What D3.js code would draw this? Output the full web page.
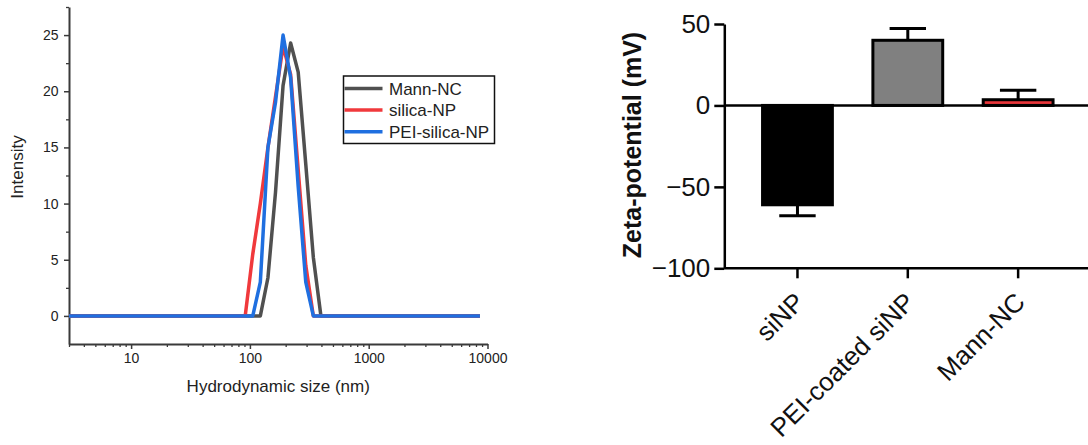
<!DOCTYPE html>
<html>
<head>
<meta charset="utf-8">
<script src="https://cdn.jsdelivr.net/npm/d3@7"></script>
<style>
  html, body { margin: 0; padding: 0; background: #fff; }
  svg { display: block; font-family: "Liberation Sans", Arial, sans-serif; }
</style>
</head>
<body>
<svg id="chart" width="1088" height="445"></svg>
<script>
// ---------- Left panel data (DLS size distribution) ----------
const seriesNames = ["Mann-NC", "silica-NP", "PEI-silica-NP"];
const seriesColors = ["#505050", "#f0393c", "#1f6fe0"];
const mannNC = [[3,0],[122.4,0],[141.8,3.4],[164.2,11],[190.1,20.5],[220.2,24.3],[255,21.7],[295.3,13.5],[342,5.2],[396.1,0],[8635,0]];
const silicaNP = [[3,0],[91.28,0],[105.7,5.5],[122.4,10],[141.8,15],[164.2,19.5],[190.1,24],[220.2,21.5],[255,13],[295.3,4.5],[342,0],[8635,0]];
const peiSilicaNP = [[3,0],[105.7,0],[122.4,3],[141.8,15],[164.2,19],[190.1,25],[220.2,21.2],[255,11.5],[295.3,3],[342,0],[8635,0]];
const sizeTicks = [10, 100, 1000, 10000];
const intensityTicks = [0, 5, 10, 15, 20, 25];

// ---------- Right panel data (zeta potential) ----------
const zetaCategories = ["siNP", "PEI-coated siNP", "Mann-NC"];
const zetaValues = [-61, 40, 3.5];
const zetaErrors = [6.7, 7.2, 5.8];
const zetaFills = ["#000000", "#808080", "#e8363a"];
const zetaTicks = [-100, -50, 0, 50];

const svg = d3.select("#chart");

// ================= LEFT PANEL =================
const L = { left: 69, right: 487.5, top: 7, bottom: 344 };
const x = d3.scaleLog().domain([3, 10000]).range([L.left, L.right]);
const y = d3.scaleLinear().domain([-2.5, 27.5]).range([L.bottom, L.top]);
const axisColor = "#3a3a3a";

const gL = svg.append("g");

// minor x ticks
const minorX = x.ticks().filter(d => sizeTicks.indexOf(d) < 0);
gL.append("g").attr("transform", `translate(0,${L.bottom})`)
  .call(d3.axisBottom(x).tickValues(minorX).tickSize(3).tickFormat(""))
  .call(g => g.select(".domain").remove())
  .call(g => g.selectAll("line").attr("stroke", axisColor).attr("stroke-width", 1.3));

const xAxisL = gL.append("g").attr("transform", `translate(0,${L.bottom})`)
  .call(d3.axisBottom(x).tickValues(sizeTicks).tickFormat(d3.format("d")).tickSize(5).tickPadding(4).tickSizeOuter(0));
xAxisL.select(".domain").attr("stroke", axisColor).attr("stroke-width", 2);
xAxisL.selectAll("line").attr("stroke", axisColor).attr("stroke-width", 1.5);
xAxisL.selectAll("text").attr("font-size", 14).attr("fill", "#222").attr("font-family", "Liberation Sans, Arial, sans-serif");

// minor y ticks
const minorY = d3.range(-2.5, 27.6, 2.5).filter(d => intensityTicks.indexOf(d) < 0 && d > -2.5);
gL.append("g").attr("transform", `translate(${L.left},0)`)
  .call(d3.axisLeft(y).tickValues(minorY).tickSize(3).tickFormat(""))
  .call(g => g.select(".domain").remove())
  .call(g => g.selectAll("line").attr("stroke", axisColor).attr("stroke-width", 1.3));

const yAxisL = gL.append("g").attr("transform", `translate(${L.left},0)`)
  .call(d3.axisLeft(y).tickValues(intensityTicks).tickSize(5).tickPadding(5.5).tickSizeOuter(0));
yAxisL.select(".domain").attr("stroke", axisColor).attr("stroke-width", 2);
yAxisL.selectAll("line").attr("stroke", axisColor).attr("stroke-width", 1.5);
yAxisL.selectAll("text").attr("font-size", 14).attr("fill", "#222").attr("font-family", "Liberation Sans, Arial, sans-serif");

// axis titles
gL.append("text").attr("x", (L.left + L.right) / 2).attr("y", 392)
  .attr("text-anchor", "middle").attr("font-size", 17).attr("fill", "#222")
  .text("Hydrodynamic size (nm)");
gL.append("text").attr("transform", `translate(23,167) rotate(-90)`)
  .attr("text-anchor", "middle").attr("font-size", 17).attr("fill", "#222")
  .text("Intensity");

// lines
const line = d3.line().x(d => x(d[0])).y(d => y(d[1]));
const allSeries = [mannNC, silicaNP, peiSilicaNP];
allSeries.forEach((s, i) => {
  gL.append("path").datum(s).attr("d", line)
    .attr("fill", "none").attr("stroke", seriesColors[i])
    .attr("stroke-width", 3.5).attr("stroke-linejoin", "round");
});

// legend
const leg = gL.append("g");
leg.append("rect").attr("x", 343.5).attr("y", 76).attr("width", 151).attr("height", 67.5)
  .attr("fill", "#fff").attr("stroke", "#111").attr("stroke-width", 1.5);
seriesNames.forEach((name, i) => {
  const cy = 88.5 + i * 21.6;
  leg.append("line").attr("x1", 344.5).attr("x2", 382.5).attr("y1", cy).attr("y2", cy)
    .attr("stroke", seriesColors[i]).attr("stroke-width", 3.5);
  leg.append("text").attr("x", 389).attr("y", cy + 6).attr("font-size", 17).attr("fill", "#222").text(name);
});

// ================= RIGHT PANEL =================
const R = { left: 724.3, right: 1088, top: 24, bottom: 268.3 };
const xb = d3.scaleBand().domain(zetaCategories).range([742.3, 1073.3]).paddingInner(0.34).paddingOuter(0.17);
const yb = d3.scaleLinear().domain([-100, 50]).range([R.bottom, R.top]);
const gR = svg.append("g");

// bars
zetaCategories.forEach((c, i) => {
  const v = zetaValues[i];
  gR.append("rect")
    .attr("x", xb(c) + 1.5).attr("width", xb.bandwidth() - 3)
    .attr("y", yb(Math.max(0, v))).attr("height", Math.abs(yb(v) - yb(0)))
    .attr("fill", zetaFills[i]).attr("stroke", "#000").attr("stroke-width", 3);
});

// error bars
zetaCategories.forEach((c, i) => {
  const v = zetaValues[i], e = zetaErrors[i];
  const cx = xb(c) + xb.bandwidth() / 2;
  const end = v >= 0 ? v + e : v - e;
  const capW = xb.bandwidth() / 2;
  gR.append("line").attr("x1", cx).attr("x2", cx).attr("y1", yb(v)).attr("y2", yb(end))
    .attr("stroke", "#000").attr("stroke-width", 3);
  gR.append("line").attr("x1", cx - capW / 2).attr("x2", cx + capW / 2).attr("y1", yb(end)).attr("y2", yb(end))
    .attr("stroke", "#000").attr("stroke-width", 3);
});

// zero line
gR.append("line").attr("x1", R.left).attr("x2", R.right).attr("y1", yb(0)).attr("y2", yb(0))
  .attr("stroke", "#000").attr("stroke-width", 2.5);

// y axis
const yAxisR = gR.append("g").attr("transform", `translate(${R.left},0)`)
  .call(d3.axisLeft(yb).tickValues(zetaTicks).tickSize(10).tickPadding(4).tickSizeOuter(0));
yAxisR.select(".domain").attr("stroke", "#000").attr("stroke-width", 2.5);
yAxisR.selectAll("line").attr("stroke", "#000").attr("stroke-width", 2.5);
yAxisR.selectAll("text").attr("font-size", 26).attr("fill", "#111").attr("font-family", "Liberation Sans, Arial, sans-serif");

// x axis
const xAxisR = gR.append("g").attr("transform", `translate(0,${R.bottom})`)
  .call(d3.axisBottom(xb).tickSize(10).tickSizeOuter(0).tickFormat(""));
xAxisR.select(".domain").attr("d", `M${R.left},0H${R.right}`).attr("stroke", "#000").attr("stroke-width", 2.5);
xAxisR.selectAll("line").attr("stroke", "#000").attr("stroke-width", 2.5);

zetaCategories.forEach(c => {
  const cx = xb(c) + xb.bandwidth() / 2;
  gR.append("text")
    .attr("transform", `translate(${cx + 2},${R.bottom + 29}) rotate(-45)`)
    .attr("text-anchor", "end").attr("dy", "0.35em")
    .attr("font-size", 26).attr("fill", "#111").text(c);
});

// y title
gR.append("text").attr("transform", `translate(641,145) rotate(-90)`)
  .attr("text-anchor", "middle").attr("font-size", 25).attr("font-weight", "bold").attr("fill", "#111")
  .text("Zeta-potential (mV)");
</script>
</body>
</html>
